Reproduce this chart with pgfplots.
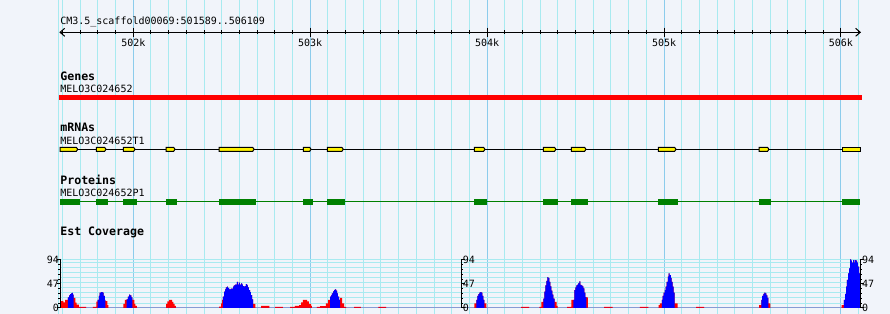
\documentclass[border=0pt]{standalone}
\usepackage{pgfplots}
\pgfplotsset{compat=1.18}
\usepackage{fontspec}
\setmonofont{DejaVu Sans Mono}
\definecolor{bg}{RGB}{241,244,250}
\definecolor{gmin}{RGB}{168,234,240}
\definecolor{gmaj}{RGB}{140,204,236}
\definecolor{protg}{RGB}{0,128,0}
\newcommand{\sm}{\ttfamily\fontsize{7.5pt}{8pt}\selectfont}
\newcommand{\bd}{\ttfamily\bfseries\fontsize{8.7pt}{9pt}\selectfont}
% mRNA exon: start, tip start, end
\newcommand{\mexon}[3]{\addplot[fill=yellow, draw=black, line width=0.75pt] coordinates {(#1,147.4) (#2,147.4) (#3,149.3) (#2,151.3) (#1,151.3)} -- cycle;}
% protein block: start, end
\newcommand{\pexon}[2]{\addplot[fill=protg, draw=none] coordinates {(#1,198.8) (#2,198.8) (#2,204.6) (#1,204.6)} -- cycle;}
\begin{document}
\begin{tikzpicture}
% ---------------- main panel (x in kb, y in pixel rows) ----------------
\begin{axis}[
  at={(0,0)}, anchor=south west,
  width=667.5pt, height=235.5pt, scale only axis,
  xmin=501.2466, xmax=506.2771, ymin=0, ymax=314, y dir=reverse,
  axis line style={draw=none},
  xtick={502,503,504,505,506},
  minor xtick={501.6,501.7,501.8,501.9,502.1,502.2,502.3,502.4,502.5,502.6,502.7,502.8,502.9,503.1,503.2,503.3,503.4,503.5,503.6,503.7,503.8,503.9,504.1,504.2,504.3,504.4,504.5,504.6,504.7,504.8,504.9,505.1,505.2,505.3,505.4,505.5,505.6,505.7,505.8,505.9,506.1},
  ytick=\empty, xticklabel=\empty,
  major tick length=0pt, minor tick length=0pt,
  grid=both,
  major grid style={gmaj, line width=0.75pt},
  minor grid style={gmin, line width=0.75pt},
  axis background/.style={fill=bg},
  clip=false,
]
\draw[gmin, line width=0.75pt] (axis cs:501.580,0) -- (axis cs:501.580,314);
% ruler
\addplot[black, line width=0.75pt] coordinates {(501.586,32.3) (506.109,32.3)};
\draw[line width=0.75pt] ([xshift=3.5pt,yshift=3pt]axis cs:501.586,32.3) -- (axis cs:501.586,32.3) -- ([xshift=3.5pt,yshift=-3pt]axis cs:501.586,32.3);
\draw[line width=0.75pt] ([xshift=-3.5pt,yshift=3pt]axis cs:506.109,32.3) -- (axis cs:506.109,32.3) -- ([xshift=-3.5pt,yshift=-3pt]axis cs:506.109,32.3);
\pgfplotsinvokeforeach{501.6,501.7,501.8,501.9,502.1,502.2,502.3,502.4,502.5,502.6,502.7,502.8,502.9,503.1,503.2,503.3,503.4,503.5,503.6,503.7,503.8,503.9,504.1,504.2,504.3,504.4,504.5,504.6,504.7,504.8,504.9,505.1,505.2,505.3,505.4,505.5,505.6,505.7,505.8,505.9,506.1}{\draw[line width=0.75pt] (axis cs:#1,30.2) -- (axis cs:#1,34.4);}
\pgfplotsinvokeforeach{502,503,504,505,506}{\draw[line width=0.75pt] (axis cs:#1,27.5) -- (axis cs:#1,36.7);
  \node[anchor=base, inner sep=0] at (axis cs:#1,46.6) {\sm #1k};}
\node[anchor=base west, inner sep=0] at (axis cs:501.586,24.3) {\sm CM3.5\_scaffold00069:501589..506109};
% genes
\node[anchor=base west, inner sep=0] at (axis cs:501.586,80) {\bd Genes};
\node[anchor=base west, inner sep=0] at (axis cs:501.586,92.3) {\sm MELO3C024652};
\addplot[fill=red, draw=none] coordinates {(501.580,95) (506.116,95) (506.116,100.3) (501.580,100.3)} -- cycle;
% mRNAs
\node[anchor=base west, inner sep=0] at (axis cs:501.586,131.7) {\bd mRNAs};
\node[anchor=base west, inner sep=0] at (axis cs:501.586,144.3) {\sm MELO3C024652T1};
\addplot[black, line width=0.75pt] coordinates {(501.586,149.3) (506.109,149.3)};
\mexon{501.586}{501.678}{501.686}
\mexon{501.791}{501.838}{501.846}
\mexon{501.944}{502.002}{502.010}
\mexon{502.186}{502.228}{502.236}
\mexon{502.485}{502.675}{502.683}
\mexon{502.961}{502.997}{503.005}
\mexon{503.097}{503.179}{503.187}
\mexon{503.928}{503.980}{503.988}
\mexon{504.318}{504.381}{504.389}
\mexon{504.476}{504.551}{504.559}
\mexon{504.968}{505.060}{505.068}
\mexon{505.538}{505.585}{505.593}
\mexon{506.008}{506.112}{506.112}
% proteins
\node[anchor=base west, inner sep=0] at (axis cs:501.586,184) {\bd Proteins};
\node[anchor=base west, inner sep=0] at (axis cs:501.586,196) {\sm MELO3C024652P1};
\addplot[protg, line width=0.75pt] coordinates {(501.586,201.3) (506.109,201.3)};
\pexon{501.586}{501.699}
\pexon{501.789}{501.856}
\pexon{501.942}{502.021}
\pexon{502.185}{502.247}
\pexon{502.485}{502.694}
\pexon{502.959}{503.016}
\pexon{503.095}{503.197}
\pexon{503.926}{503.999}
\pexon{504.316}{504.401}
\pexon{504.474}{504.570}
\pexon{504.966}{505.079}
\pexon{505.537}{505.605}
\pexon{506.006}{506.109}
\node[anchor=base west, inner sep=0] at (axis cs:501.586,235.3) {\bd Est Coverage};
\end{axis}
% ---------------- coverage panel (x in kb, y in coverage units) ----------------
\begin{axis}[
  at={(0,0)}, anchor=south west,
  width=667.5pt, height=235.5pt, scale only axis,
  xmin=501.2466, xmax=506.2771, ymin=-11.68, ymax=599.4,
  hide axis, clip=false,
]
\pgfplotsinvokeforeach{9.7,19.5,29.2,39,48.7,58.5,68.2,78,87.7,94}{\draw[gmin, line width=0.75pt] (axis cs:501.589,#1) -- (axis cs:506.109,#1);}
\draw[gmaj, line width=0.75pt] (axis cs:501.589,0) -- (axis cs:506.109,0);
% all coverage
\addplot[const plot, fill=red, draw=none] table {
x y
501.588 13.6
501.605 11
501.614 15.6
501.630 20.8
501.637 24.7
501.643 27.2
501.648 28.5
501.654 29.2
501.658 25.9
501.663 19.5
501.672 10.4
501.680 6.4
501.692 2
501.733 0
501.772 2
501.791 12.3
501.799 15.6
501.805 23.4
501.810 29.8
501.818 31
501.827 29.8
501.833 23.4
501.839 15.6
501.842 13.6
501.853 5.8
501.859 0
501.944 7.8
501.953 15.6
501.963 16.9
501.970 22
501.976 25.9
501.982 24.7
501.989 20.8
501.995 15.6
502.006 7.8
502.012 3.9
502.020 0
502.185 7.8
502.192 13
502.202 15.6
502.219 11.7
502.226 7.8
502.234 3.9
502.240 0
502.485 2.6
502.496 9
502.502 15.6
502.507 22
502.513 31.8
502.519 36.3
502.524 40.2
502.530 41.5
502.535 39
502.541 36.3
502.547 36.3
502.552 37.5
502.558 37.5
502.564 41.5
502.569 44.1
502.575 45.4
502.586 50.6
502.592 45.4
502.598 49.3
502.603 45.4
502.609 48
502.615 45.4
502.620 42.8
502.626 41.5
502.632 42.8
502.637 46.7
502.643 44.1
502.648 40.2
502.654 35
502.660 31.1
502.665 25
502.671 16.9
502.678 7.8
502.690 0
502.722 3.9
502.769 0
502.801 2
502.846 0
502.886 2
502.914 3.9
502.937 5.8
502.948 11
502.959 15.6
502.982 13
502.993 7.8
503.005 3.9
503.010 0
503.037 2
503.056 3.6
503.089 9
503.101 15.6
503.112 22
503.118 24.7
503.123 28.6
503.129 32.4
503.135 35
503.140 36.3
503.146 33.7
503.152 28.6
503.157 22
503.163 15.6
503.169 19.5
503.180 9
503.191 2
503.203 0
503.248 2
503.286 0
503.385 2
503.429 0
503.928 9
503.939 15.6
503.945 23.4
503.950 27
503.956 29.8
503.962 31.1
503.967 29.8
503.973 23.4
503.979 15.6
503.984 9
503.996 0
504.192 2
504.237 0
504.295 2
504.306 11.7
504.318 18
504.323 32
504.329 44
504.335 53
504.340 60
504.346 58
504.352 51
504.357 42
504.363 34
504.369 26
504.374 18
504.382 11.7
504.393 3.9
504.399 0
504.452 2
504.476 15.6
504.487 16
504.493 35
504.499 40
504.504 44
504.510 45.4
504.515 48
504.521 52
504.527 45
504.532 44
504.538 42
504.544 38
504.549 30
504.555 21
504.561 20.8
504.570 0
504.661 2
504.710 0
504.864 2
504.911 0
504.970 5.8
504.977 9
504.987 15.6
504.992 23.4
504.998 29.8
505.004 35
505.009 41.5
505.015 50.6
505.021 61
505.026 67.5
505.032 64
505.038 58.4
505.043 50.6
505.049 41.5
505.054 29.8
505.060 9
505.077 0
505.181 2
505.226 0
505.538 5.8
505.550 15.6
505.555 23.4
505.561 27.3
505.567 29.8
505.572 28.5
505.578 24.7
505.584 19.5
505.589 9
505.601 0
506.004 5.8
506.017 15.6
506.023 27.3
506.029 41.5
506.034 54.5
506.040 67.5
506.046 77.2
506.051 94.7
506.057 92
506.062 88.2
506.068 93.4
506.074 88.2
506.079 93.4
506.085 92
506.091 88.2
506.096 80.4
506.102 67.5
506.108 67.5
506.109 0
} \closedcycle;
% subset coverage
\addplot[const plot, fill=blue, draw=none] table {
x y
501.630 20.8
501.637 24.7
501.643 27.2
501.648 28.5
501.654 29.2
501.658 25.9
501.663 0
501.799 15.6
501.805 23.4
501.810 29.8
501.818 31
501.827 29.8
501.833 23.4
501.839 15.6
501.842 0
501.963 16.9
501.970 22
501.976 25.9
501.982 24.7
501.989 20.8
501.995 0
502.507 22
502.513 31.8
502.519 36.3
502.524 40.2
502.530 41.5
502.535 39
502.541 36.3
502.547 36.3
502.552 37.5
502.558 37.5
502.564 41.5
502.569 44.1
502.575 45.4
502.586 50.6
502.592 45.4
502.598 49.3
502.603 45.4
502.609 48
502.615 45.4
502.620 42.8
502.626 41.5
502.632 42.8
502.637 46.7
502.643 44.1
502.648 40.2
502.654 35
502.660 31.1
502.665 25
502.671 16.9
502.678 0
503.112 22
503.118 24.7
503.123 28.6
503.129 32.4
503.135 35
503.140 36.3
503.146 33.7
503.152 28.6
503.157 22
503.163 15.6
503.169 0
503.939 15.6
503.945 23.4
503.950 27
503.956 29.8
503.962 31.1
503.967 29.8
503.973 23.4
503.979 15.6
503.984 0
504.318 18
504.323 32
504.329 44
504.335 53
504.340 60
504.346 58
504.352 51
504.357 42
504.363 34
504.369 26
504.374 18
504.382 0
504.487 16
504.493 35
504.499 40
504.504 44
504.510 45.4
504.515 48
504.521 52
504.527 45
504.532 44
504.538 42
504.544 38
504.549 30
504.555 21
504.561 0
504.987 15.6
504.992 23.4
504.998 29.8
505.004 35
505.009 41.5
505.015 50.6
505.021 61
505.026 67.5
505.032 64
505.038 58.4
505.043 50.6
505.049 41.5
505.054 29.8
505.060 0
505.550 15.6
505.555 23.4
505.561 27.3
505.567 29.8
505.572 28.5
505.578 24.7
505.584 19.5
505.589 0
506.017 15.6
506.023 27.3
506.029 41.5
506.034 54.5
506.040 67.5
506.046 77.2
506.051 94.7
506.057 92
506.062 88.2
506.068 93.4
506.074 88.2
506.079 93.4
506.085 92
506.091 88.2
506.096 80.4
506.102 67.5
506.108 67.5
506.109 0
} \closedcycle;
% coverage scales
\draw[line width=0.75pt] (axis cs:501.589,0) -- (axis cs:501.589,94);
\draw[line width=0.75pt] (axis cs:503.8525,0) -- (axis cs:503.8525,94);
\draw[line width=0.75pt] (axis cs:506.109,0) -- (axis cs:506.109,94);
\pgfplotsinvokeforeach{0,9.4,18.8,28.2,37.6,47,56.4,65.8,75.2,84.6,94}{
  \draw[line width=0.75pt] ([xshift=-1.6pt]axis cs:501.589,#1) -- (axis cs:501.589,#1);
  \draw[line width=0.75pt] (axis cs:503.8525,#1) -- ([xshift=1.6pt]axis cs:503.8525,#1);
  \draw[line width=0.75pt] (axis cs:506.109,#1) -- ([xshift=1.6pt]axis cs:506.109,#1);}
\pgfplotsinvokeforeach{0,47,94}{
  \draw[line width=0.75pt] ([xshift=-3pt]axis cs:501.589,#1) -- (axis cs:501.589,#1);
  \draw[line width=0.75pt] (axis cs:503.8525,#1) -- ([xshift=3pt]axis cs:503.8525,#1);
  \draw[line width=0.75pt] (axis cs:506.109,#1) -- ([xshift=3pt]axis cs:506.109,#1);
  \node[anchor=east, inner sep=0] at ([xshift=-1pt]axis cs:501.589,#1) {\sm #1};
  \node[anchor=west, inner sep=0] at ([xshift=1.2pt]axis cs:503.8525,#1) {\sm #1};
  \node[anchor=west, inner sep=0] at ([xshift=1.2pt]axis cs:506.109,#1) {\sm #1};}
\end{axis}
\pgfresetboundingbox
\useasboundingbox (0,0) rectangle (667.5pt,235.5pt);
\end{tikzpicture}
\end{document}
